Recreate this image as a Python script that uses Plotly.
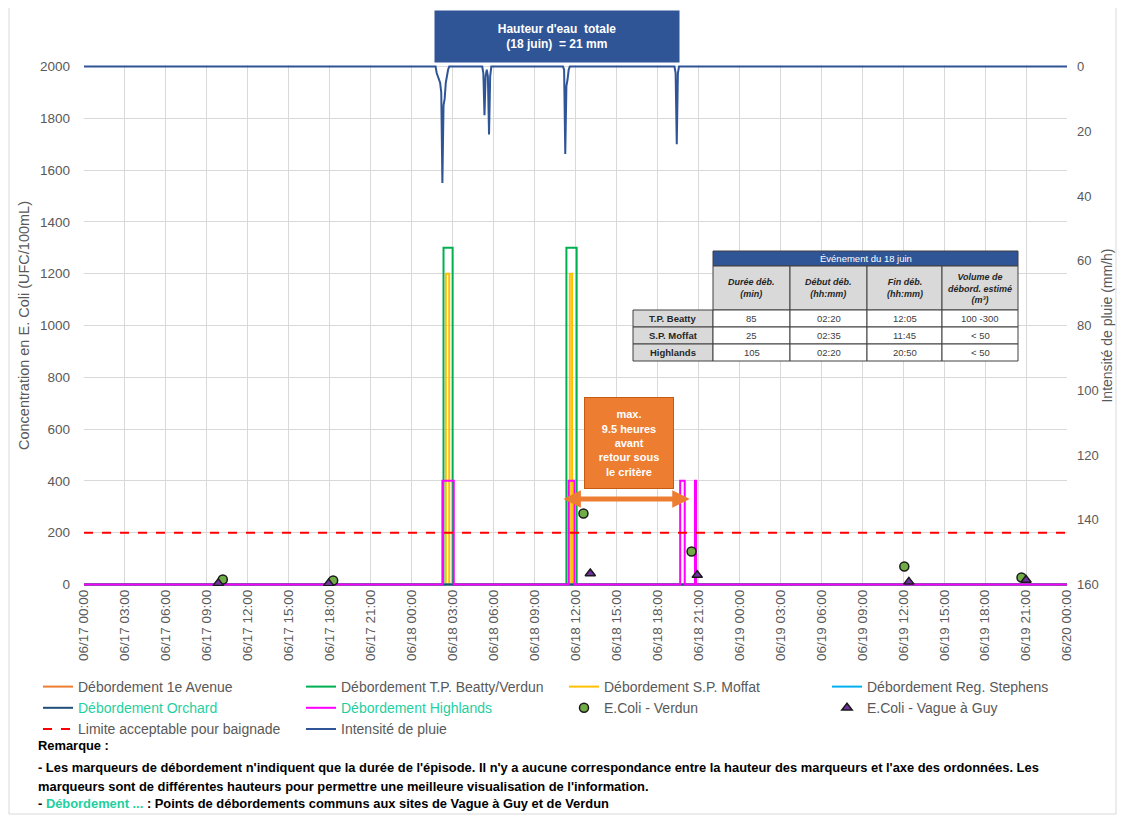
import plotly.graph_objects as go

# ---- data ----
T_START = "2021-06-17 00:00"
T_END = "2021-06-20 00:00"

# overflow episodes (start, end) and marker height
ep_1e_avenue = []
ep_beatty = [("2021-06-18 02:20", "2021-06-18 03:00"), ("2021-06-18 11:20", "2021-06-18 12:05")]
ep_moffat = [("2021-06-18 02:30", "2021-06-18 02:45"), ("2021-06-18 11:35", "2021-06-18 11:45")]
ep_stephens = []
ep_orchard = []
ep_highlands = [("2021-06-18 02:15", "2021-06-18 03:05"), ("2021-06-18 11:30", "2021-06-18 11:55"),
                ("2021-06-18 19:40", "2021-06-18 20:00"), ("2021-06-18 20:45", "2021-06-18 20:50")]
h_beatty = 1300
h_moffat = 1200
h_highlands = 400
h_other = 300

# E. coli samples
ecoli_verdun_t = ["2021-06-17 10:10", "2021-06-17 18:15", "2021-06-18 12:35",
                  "2021-06-18 20:30", "2021-06-19 12:05", "2021-06-19 20:40"]
ecoli_verdun_v = [19, 15, 274, 127, 69, 27]
ecoli_guy_t = ["2021-06-17 09:50", "2021-06-17 17:55", "2021-06-18 13:05",
               "2021-06-18 20:55", "2021-06-19 12:25", "2021-06-19 21:00"]
ecoli_guy_v = [5, 4, 42, 36, 10, 17]

limit_value = 200

# rain intensity (mm/h)
rain_t = [T_START,
          "2021-06-18 01:45", "2021-06-18 01:50", "2021-06-18 01:55", "2021-06-18 02:00",
          "2021-06-18 02:05", "2021-06-18 02:10", "2021-06-18 02:15", "2021-06-18 02:20",
          "2021-06-18 02:25", "2021-06-18 02:30", "2021-06-18 02:35", "2021-06-18 02:40",
          "2021-06-18 02:45",
          "2021-06-18 05:10", "2021-06-18 05:15", "2021-06-18 05:20", "2021-06-18 05:25",
          "2021-06-18 05:30", "2021-06-18 05:35", "2021-06-18 05:40", "2021-06-18 05:45",
          "2021-06-18 05:50",
          "2021-06-18 11:05", "2021-06-18 11:10", "2021-06-18 11:15", "2021-06-18 11:20",
          "2021-06-18 11:25", "2021-06-18 11:30", "2021-06-18 11:35",
          "2021-06-18 19:15", "2021-06-18 19:20", "2021-06-18 19:25", "2021-06-18 19:30",
          "2021-06-18 19:35",
          T_END]
rain_v = [0,
          0, 2, 3, 4, 5, 8, 36, 12, 10, 5, 2, 1, 0,
          0, 2, 15, 3, 1, 3, 21, 3, 0,
          0, 1, 27, 6, 4, 1, 0,
          0, 2, 24, 2, 0,
          0]

table_title = "Événement du 18 juin"
table_cols = ["Durée déb.<br>(min)", "Début déb.<br>(hh:mm)", "Fin déb.<br>(hh:mm)",
              "Volume de<br>débord. estimé<br>(m³)"]
table_rows = ["T.P. Beatty", "S.P. Moffat", "Highlands"]
table_duree = ["85", "25", "105"]
table_debut = ["02:20", "02:35", "02:20"]
table_fin = ["12:05", "11:45", "20:50"]
table_volume = ["100 -300", "< 50", "< 50"]

TEAL = "#1FCF9F"
GRAY = "#595959"
FONT = "Liberation Sans, Arial, sans-serif"


def steps(episodes, height):
    xs, ys = [T_START], [0]
    for s, e in episodes:
        xs += [s, s, e, e]
        ys += [0, height, height, 0]
    xs.append(T_END)
    ys.append(0)
    return xs, ys


fig = go.Figure()

overflow = [
    ("Débordement 1e Avenue", ep_1e_avenue, h_other, "#ED7D31"),
    ("Débordement T.P. Beatty/Verdun", ep_beatty, h_beatty, "#00B050"),
    ("Débordement S.P. Moffat", ep_moffat, h_moffat, "#FFC000"),
    ("Débordement Reg. Stephens", ep_stephens, h_other, "#00B0F0"),
    (f'<span style="color:{TEAL}">Débordement Orchard</span>', ep_orchard, h_other, "#1F4E79"),
    (f'<span style="color:{TEAL}">Débordement Highlands</span>', ep_highlands, h_highlands, "#FF00FF"),
]
for name, eps, h, col in overflow:
    xs, ys = steps(eps, h)
    fig.add_trace(go.Scatter(x=xs, y=ys, mode="lines", name=name,
                             line=dict(color=col, width=2)))

fig.add_trace(go.Scatter(x=ecoli_verdun_t, y=ecoli_verdun_v, mode="markers", name="E.Coli - Verdun",
                         marker=dict(symbol="circle", size=9, color="#70AD47",
                                     line=dict(color="#1a1a1a", width=1.5))))
fig.add_trace(go.Scatter(x=ecoli_guy_t, y=ecoli_guy_v, mode="markers", name="E.Coli - Vague à Guy",
                         marker=dict(symbol="triangle-up", size=9, color="#7030A0",
                                     line=dict(color="#1a1a1a", width=1.5))))
fig.add_trace(go.Scatter(x=[T_START, T_END], y=[limit_value, limit_value], mode="lines",
                         name="Limite acceptable pour baignade",
                         line=dict(color="#FF0000", width=2, dash="dash")))
fig.add_trace(go.Scatter(x=rain_t, y=rain_v, mode="lines", name="Intensité de pluie",
                         line=dict(color="#2F5597", width=2), yaxis="y2"))

# page has an 8px body margin: work in screen pixels, convert to figure/paper coords
OFF = 8
W, H = 1125 - OFF, 821 - OFF
L, R, T, B = 84, 1067, 65, 586  # plot area in screen pixels


def px(x):
    return (x - L) / (R - L)


def py(y):
    return (B - y) / (B - T)


shapes = []
annotations = []

# outer chart border
shapes.append(dict(type="rect", xref="paper", yref="paper", x0=px(9), x1=px(1116), y0=py(814), y1=py(5),
                   line=dict(color="#D9D9D9", width=1)))

# title box
annotations.append(dict(xref="paper", yref="paper", x=px(557), y=py(36.5), xanchor="center", yanchor="middle",
                        text="<b>Hauteur d'eau  totale<br>(18 juin)  = 21 mm</b>", showarrow=False,
                        width=240, height=47, bgcolor="#2F5597", borderpad=2,
                        font=dict(color="white", size=12, family=FONT)))

# table
cx = [633, 713, 790, 867, 942, 1018]
ry = [251, 266, 310, 327, 344, 361]


def cell(x0, x1, y0, y1, fill, text, font):
    shapes.append(dict(type="rect", xref="paper", yref="paper", x0=px(x0), x1=px(x1), y0=py(y1), y1=py(y0),
                       fillcolor=fill, line=dict(color="#404040", width=1)))
    annotations.append(dict(xref="paper", yref="paper", x=px((x0 + x1) / 2), y=py((y0 + y1) / 2),
                            xanchor="center", yanchor="middle", text=text, showarrow=False, font=font))


cell(cx[1], cx[5], ry[0], ry[1], "#2F5597", table_title, dict(color="white", size=9.5, family=FONT))
for j, c in enumerate(table_cols):
    cell(cx[j + 1], cx[j + 2], ry[1], ry[2], "#D9D9D9", f"<b><i>{c}</i></b>",
         dict(color="#262626", size=9, family=FONT))
for i, rname in enumerate(table_rows):
    y0, y1 = ry[i + 2], ry[i + 3]
    vals = [table_duree[i], table_debut[i], table_fin[i], table_volume[i]]
    cell(cx[0], cx[1], y0, y1, "#D9D9D9", f"<b>{rname}</b>", dict(color="#262626", size=9.5, family=FONT))
    for j, v in enumerate(vals):
        cell(cx[j + 1], cx[j + 2], y0, y1, "white", v, dict(color="#404040", size=9.5, family=FONT))

# orange note + double arrow
annotations.append(dict(xref="x", yref="y", x="2021-06-18 15:56", y=545, xanchor="center", yanchor="middle",
                        text="<b>max.<br>9.5 heures<br>avant<br>retour sous<br>le critère</b>", showarrow=False,
                        width=86, height=88, bgcolor="#ED7D31", bordercolor="#C55A11", borderwidth=1,
                        font=dict(color="white", size=11, family=FONT)))
annotations.append(dict(xref="x", yref="y", x="2021-06-18 20:22", y=330, axref="x", ayref="y",
                        ax="2021-06-18 11:00", ay=330, text="", showarrow=True, arrowhead=2,
                        arrowside="end+start", arrowwidth=5, arrowsize=0.7, arrowcolor="#ED7D31"))

# remarks
remarks = [
    (745, "<b>Remarque :</b>"),
    (767, "<b>- Les marqueurs de débordement n'indiquent que la durée de l'épisode. Il n'y a aucune correspondance "
          "entre la hauteur des marqueurs et l'axe des ordonnées. Les</b>"),
    (786, "<b>marqueurs sont de différentes hauteurs pour permettre une meilleure visualisation de l'information.</b>"),
    (803, f'<b>- <span style="color:{TEAL}">Débordement ...</span> : Points de débordements communs aux sites '
          'de Vague à Guy et de Verdun</b>'),
]
for yy, txt in remarks:
    annotations.append(dict(xref="paper", yref="paper", x=px(36), y=py(yy), xanchor="left", yanchor="middle",
                            text=txt, showarrow=False, font=dict(color="black", size=12.9, family=FONT)))

fig.update_layout(
    width=W, height=H,
    margin=dict(l=L - OFF, r=W - (R - OFF), t=T - OFF, b=H - (B - OFF)),
    paper_bgcolor="white", plot_bgcolor="white",
    font=dict(family=FONT, color=GRAY, size=12),
    xaxis=dict(range=[T_START, T_END], type="date", dtick=3 * 3600 * 1000, tick0=T_START,
               tickformat="%m/%d %H:%M", tickangle=-90, showgrid=True, gridcolor="#D9D9D9",
               tickfont=dict(size=13.5, color=GRAY), showline=False, zeroline=False, ticks="",
               automargin=False),
    yaxis=dict(range=[-6, 2006], tickvals=list(range(0, 2001, 200)), showgrid=True, gridcolor="#D9D9D9",
               zeroline=False, automargin=False,
               title=dict(text="Concentration en E. Coli (UFC/100mL)", font=dict(size=14.5, color=GRAY),
                          standoff=6),
               tickfont=dict(size=13.5, color=GRAY), ticks="", ticklabelstandoff=13),
    yaxis2=dict(range=[160.48, -0.48], tickvals=list(range(0, 161, 20)), overlaying="y", side="right",
                showgrid=False, zeroline=False, automargin=False,
                title=dict(text="Intensité de pluie (mm/h)", font=dict(size=14, color=GRAY), standoff=1),
                tickfont=dict(size=13, color=GRAY), ticks="", ticklabelstandoff=9),
    legend=dict(orientation="h", x=px(38), y=py(671), xanchor="left", yanchor="top",
                entrywidth=218, entrywidthmode="pixels", font=dict(size=14, color=GRAY),
                bgcolor="rgba(0,0,0,0)", traceorder="normal", itemwidth=30),
    shapes=shapes,
    annotations=annotations,
)

fig.write_html("out.html")
